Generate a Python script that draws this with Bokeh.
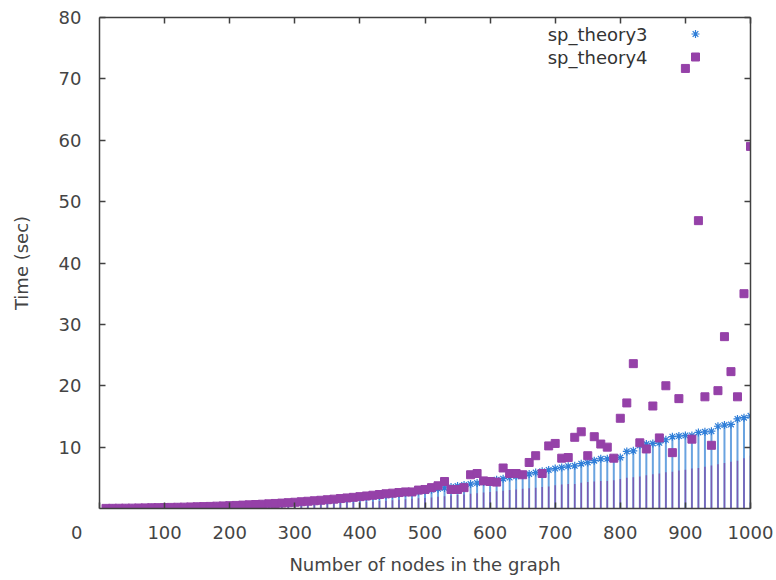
from bokeh.plotting import figure
from bokeh.models import Range1d, LinearAxis, FixedTicker, Label, Legend, LegendItem, ColumnDataSource
from bokeh.embed import file_html
from bokeh.resources import INLINE

nodes = list(range(10, 1001, 10))

sp_theory3 = [
    0.02, 0.03, 0.04, 0.05, 0.06, 0.08, 0.09, 0.11, 0.13, 0.15,
    0.17, 0.19, 0.21, 0.24, 0.27, 0.30, 0.33, 0.36, 0.40, 0.44,
    0.48, 0.52, 0.56, 0.61, 0.66, 0.71, 0.76, 0.82, 0.88, 0.95,
    1.01, 1.08, 1.15, 1.22, 1.30, 1.38, 1.46, 1.55, 1.64, 1.74,
    1.84, 1.94, 2.05, 2.16, 2.28, 2.40, 2.52, 2.65, 2.78, 2.92,
    3.06, 3.20, 3.35, 3.50, 3.66, 3.82, 3.98, 4.15, 4.32, 4.50,
    4.68, 4.86, 5.05, 5.24, 5.44, 5.64, 5.85, 6.06, 6.28, 6.50,
    6.70, 6.90, 6.95, 7.30, 7.50, 7.80, 8.10, 8.10, 8.20, 8.30,
    9.30, 9.40, 10.3, 10.5, 10.6, 10.7, 11.2, 11.7, 11.8, 11.9,
    11.9, 12.4, 12.5, 12.6, 13.4, 13.6, 13.7, 14.6, 14.8, 15.1,
]

sp_theory4 = [
    0.02, 0.03, 0.04, 0.05, 0.06, 0.08, 0.10, 0.12, 0.14, 0.16,
    0.18, 0.20, 0.22, 0.25, 0.28, 0.31, 0.34, 0.38, 0.42, 0.46,
    0.50, 0.55, 0.60, 0.65, 0.70, 0.76, 0.82, 0.88, 0.95, 1.02,
    1.10, 1.18, 1.26, 1.34, 1.43, 1.52, 1.62, 1.72, 1.82, 1.93,
    2.04, 2.16, 2.28, 2.40, 2.50, 2.60, 2.70, 2.70, 3.00, 3.10,
    3.40, 3.70, 4.40, 3.10, 3.10, 3.40, 5.50, 5.70, 4.50, 4.40,
    4.30, 6.60, 5.70, 5.70, 5.50, 7.50, 8.60, 5.70, 10.2, 10.6,
    8.20, 8.30, 11.6, 12.5, 8.60, 11.7, 10.5, 10.0, 8.20, 14.7,
    17.2, 23.6, 10.7, 9.70, 16.7, 11.5, 20.0, 9.10, 17.9, 71.7,
    11.3, 46.9, 18.2, 10.3, 19.2, 28.0, 22.3, 18.2, 35.0, 59.0,
]

inner = [
    0.01, 0.02, 0.02, 0.03, 0.04, 0.05, 0.05, 0.06, 0.08, 0.09,
    0.10, 0.11, 0.12, 0.14, 0.16, 0.18, 0.19, 0.21, 0.23, 0.26,
    0.28, 0.30, 0.33, 0.36, 0.39, 0.42, 0.45, 0.48, 0.52, 0.56,
    0.60, 0.64, 0.68, 0.72, 0.77, 0.82, 0.86, 0.92, 0.97, 1.03,
    1.09, 1.15, 1.22, 1.28, 1.35, 1.42, 1.50, 1.57, 1.65, 1.73,
    1.80, 1.90, 2.00, 2.10, 2.20, 2.30, 2.40, 2.50, 2.60, 2.70,
    2.80, 2.90, 3.00, 3.10, 3.20, 3.30, 3.40, 3.50, 3.60, 3.80,
    3.90, 4.00, 4.00, 4.20, 4.30, 4.40, 4.50, 4.50, 4.60, 4.80,
    5.00, 5.10, 5.20, 5.40, 5.60, 5.70, 5.90, 6.00, 6.20, 6.30,
    6.50, 6.60, 6.80, 7.00, 7.20, 7.40, 7.60, 7.80, 8.20, 8.60,
]

x_ticks = [0, 100, 200, 300, 400, 500, 600, 700, 800, 900, 1000]
x_tick_labels = ["0", "100", "200", "300", "400", "500", "600", "700", "800", "900", "1000"]
y_ticks = [10, 20, 30, 40, 50, 60, 70, 80]

FONT = "DejaVu Sans"
TXT = "#444444"
AX = "#404040"
BLUE_LINE = "#6aa3e0"
BLUE_PT = "#2f7ed8"
PURPLE = "#9541a8"
PURPLE_LINE = "#7e4aa8"

src = ColumnDataSource(dict(n=nodes, t3=sp_theory3, t4=sp_theory4, inner=inner))

p = figure(frame_width=651, frame_height=491, output_backend="svg", toolbar_location=None,
           x_range=Range1d(0, 1000), y_range=Range1d(0, 80),
           min_border_left=99, min_border_right=24, min_border_top=17, min_border_bottom=10)
p.xgrid.visible = False
p.ygrid.visible = False
p.outline_line_color = None
p.background_fill_color = "white"
p.border_fill_color = "white"

def style(ax, ticks, labels=True):
    ax.ticker = FixedTicker(ticks=ticks)
    ax.axis_line_color = AX
    ax.axis_line_width = 1.5
    ax.major_tick_line_color = AX
    ax.major_tick_line_width = 1.5
    ax.major_tick_in = 6
    ax.major_tick_out = 0
    ax.minor_tick_line_color = None
    ax.major_label_text_font = FONT
    if labels:
        ax.major_label_text_color = TXT
        ax.major_label_text_font_size = "18px"
    else:
        ax.major_label_text_color = None
        ax.major_label_text_font_size = "1px"
        ax.major_label_standoff = 0
    ax.axis_label_text_font = FONT
    ax.axis_label_text_color = TXT
    ax.axis_label_text_font_size = "18px"
    ax.axis_label_text_font_style = "normal"

style(p.xaxis[0], x_ticks)
style(p.yaxis[0], y_ticks)
# the "0" of the reference sits left of the origin: pad it with non-breaking spaces
overrides = {t: lab for t, lab in zip(x_ticks, x_tick_labels)}
overrides[0] = "0" + "\u00a0" * 8
p.xaxis[0].major_label_overrides = overrides
p.xaxis[0].axis_label = "Number of nodes in the graph"
p.yaxis[0].axis_label = "Time (sec)"
p.xaxis[0].major_label_standoff = 13
p.xaxis[0].axis_label_standoff = 8
p.yaxis[0].major_label_standoff = 18
p.yaxis[0].axis_label_standoff = 24

top = LinearAxis()
style(top, x_ticks[1:], labels=False)
p.add_layout(top, "above")
right = LinearAxis()
style(right, y_ticks, labels=False)
p.add_layout(right, "right")

p.segment(x0="n", y0=0, x1="n", y1="t3", source=src, line_color=BLUE_LINE, line_width=2)
p.segment(x0="n", y0=0, x1="n", y1="inner", source=src, line_color=PURPLE_LINE, line_width=1.5, line_alpha=0.8)
r3 = p.scatter(x="n", y="t3", source=src, marker="asterisk", size=8, line_color=BLUE_PT, line_width=1.2)
r4 = p.scatter(x="n", y="t4", source=src, marker="square", size=8, fill_color=PURPLE, line_color=PURPLE)

leg = Legend(items=[LegendItem(label=" ", renderers=[r3]), LegendItem(label=" ", renderers=[r4])],
             location=(586, 440), glyph_width=20, glyph_height=23, spacing=0, padding=0, margin=0,
             label_text_font_size="1px", label_width=0, label_height=0, label_standoff=0,
             border_line_color=None, background_fill_alpha=0)
p.add_layout(leg, "center")

for txt, yy in (("sp_theory3", 474.5), ("sp_theory4", 451.5)):
    p.add_layout(Label(x=548, y=yy, x_units="screen", y_units="screen", text=txt, text_font=FONT,
                       text_font_size="18px", text_color="#333333", text_align="right",
                       text_baseline="middle"))

open("out.html", "w").write(file_html(p, INLINE))
